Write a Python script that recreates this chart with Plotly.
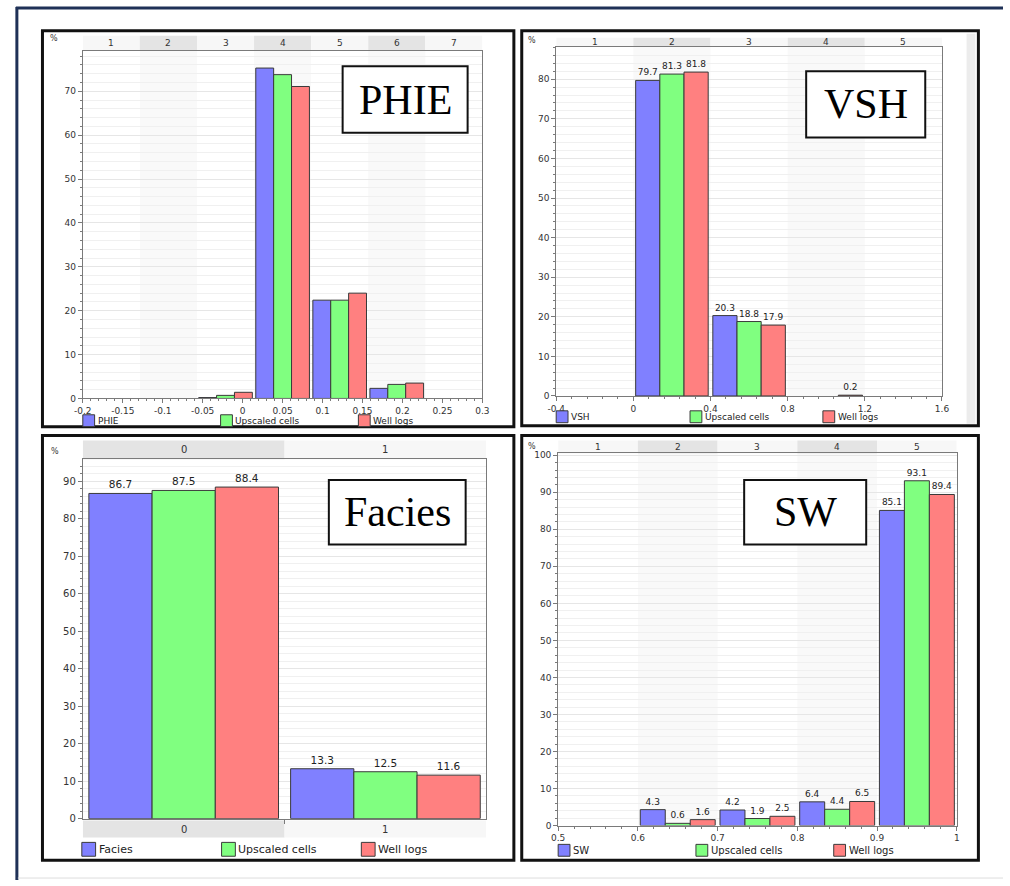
import numpy as np
import plotly.graph_objects as go

W, H = 1010, 886

# ---------------- data ----------------
PHIE_BINS = ["1", "2", "3", "4", "5", "6", "7"]
PHIE_EDGES = list(np.linspace(-0.2, 0.3, 8))
PHIE_PHIE = [0, 0, 0.2, 75.3, 22.4, 2.3, 0]
PHIE_UPSCALED = [0, 0, 0.7, 73.8, 22.4, 3.2, 0]
PHIE_WELL = [0, 0, 1.4, 71.1, 24.0, 3.5, 0]
PHIE_XTICKS = [-0.2, -0.15, -0.1, -0.05, 0, 0.05, 0.1, 0.15, 0.2, 0.25, 0.3]
PHIE_XTICK_LABELS = ["-0.2", "-0.15", "-0.1", "-0.05", "0", "0.05", "0.1", "0.15", "0.2", "0.25", "0.3"]
PHIE_YTICKS = [0, 10, 20, 30, 40, 50, 60, 70]

VSH_BINS = ["1", "2", "3", "4", "5"]
VSH_EDGES = [-0.4, 0.0, 0.4, 0.8, 1.2, 1.6]
VSH_VSH = [0, 79.7, 20.3, 0, 0]
VSH_UPSCALED = [0, 81.3, 18.8, 0, 0]
VSH_WELL = [0, 81.8, 17.9, 0.2, 0]
VSH_XTICKS = [-0.4, 0, 0.4, 0.8, 1.2, 1.6]
VSH_XTICK_LABELS = ["-0.4", "0", "0.4", "0.8", "1.2", "1.6"]
VSH_YTICKS = [0, 10, 20, 30, 40, 50, 60, 70, 80]

FACIES_CATS = ["0", "1"]
FACIES_FACIES = [86.7, 13.3]
FACIES_UPSCALED = [87.5, 12.5]
FACIES_WELL = [88.4, 11.6]
FACIES_YTICKS = [0, 10, 20, 30, 40, 50, 60, 70, 80, 90]

SW_BINS = ["1", "2", "3", "4", "5"]
SW_EDGES = [0.5, 0.6, 0.7, 0.8, 0.9, 1.0]
SW_SW = [0, 4.3, 4.2, 6.4, 85.1]
SW_UPSCALED = [0, 0.6, 1.9, 4.4, 93.1]
SW_WELL = [0, 1.6, 2.5, 6.5, 89.4]
SW_XTICKS = [0.5, 0.6, 0.7, 0.8, 0.9, 1.0]
SW_XTICK_LABELS = ["0.5", "0.6", "0.7", "0.8", "0.9", "1"]
SW_YTICKS = [0, 10, 20, 30, 40, 50, 60, 70, 80, 90, 100]

SERIES_COLORS = ["#8080ff", "#80ff80", "#ff8080"]
EDGE = "#3a3a3a"
STRIP_DARK = "#e4e4e4"
STRIP_LIGHT = "#f7f7f7"


def fx(px):
    return px / W


def fy(py):
    return 1 - py / H


panels = [
    dict(name="PHIE", series=["PHIE", "Upscaled cells", "Well logs"],
         vals=[PHIE_PHIE, PHIE_UPSCALED, PHIE_WELL], bins=PHIE_BINS, edges=PHIE_EDGES,
         xticks=PHIE_XTICKS, xlabels=PHIE_XTICK_LABELS, yticks=PHIE_YTICKS,
         xrange=[-0.2, 0.3], yrange=[0, 79.3], xminor=0.01, dark_first=False,
         box=(34, 28, 513, 428), plot=(75, 48, 481, 399.5), strip=(33, 48),
         legend_y=422, legend_x=[75, 215, 355], sq=12, lfont=9,
         lbox=(339, 64, 466, 131), pct=(46, 36), labels=False, tfont=9, vfont=9),
    dict(name="VSH", series=["VSH", "Upscaled cells", "Well logs"],
         vals=[VSH_VSH, VSH_UPSCALED, VSH_WELL], bins=VSH_BINS, edges=VSH_EDGES,
         xticks=VSH_XTICKS, xlabels=VSH_XTICK_LABELS, yticks=VSH_YTICKS,
         xrange=[-0.4, 1.6], yrange=[0, 88.25], xminor=0.08, dark_first=False,
         box=(521, 28, 985, 427), plot=(556, 44, 948, 397), strip=(35, 44),
         legend_y=418, legend_x=[556, 692, 827], sq=12, lfont=9,
         lbox=(810, 69, 931, 136), pct=(531, 38), labels=True, tfont=9, vfont=9),
    dict(name="Facies", series=["Facies", "Upscaled cells", "Well logs"],
         vals=[FACIES_FACIES, FACIES_UPSCALED, FACIES_WELL], bins=FACIES_CATS,
         edges=[-0.5, 0.5, 1.5],
         xticks=[], xlabels=[], yticks=FACIES_YTICKS,
         xrange=[-0.5, 1.5], yrange=[0, 95.8], xminor=None, dark_first=True,
         box=(34, 437, 513, 866), plot=(75, 461, 485, 824), strip=(442, 461),
         bstrip=(826, 843),
         legend_y=855, legend_x=[74, 216, 358], sq=14, lfont=11,
         lbox=(325, 482, 464, 547), pct=(47, 453), labels=True, tfont=10, vfont=10.5),
    dict(name="SW", series=["SW", "Upscaled cells", "Well logs"],
         vals=[SW_SW, SW_UPSCALED, SW_WELL], bins=SW_BINS, edges=SW_EDGES,
         xticks=SW_XTICKS, xlabels=SW_XTICK_LABELS, yticks=SW_YTICKS,
         xrange=[0.5, 1.0], yrange=[0, 100.5], xminor=0.02, dark_first=False,
         box=(521, 437, 985, 866), plot=(558, 455, 963, 831), strip=(442, 455),
         legend_y=856, legend_x=[558, 698, 838], sq=12, lfont=10,
         lbox=(747, 482, 871, 547), pct=(531, 448), labels=True, tfont=9, vfont=9),
]

fig = go.Figure()
shapes = []
annotations = []
layout_axes = {}

FONT = "DejaVu Sans"

for i, p in enumerate(panels, start=1):
    xa = "x" if i == 1 else f"x{i}"
    ya = "y" if i == 1 else f"y{i}"
    xkey = "xaxis" if i == 1 else f"xaxis{i}"
    ykey = "yaxis" if i == 1 else f"yaxis{i}"
    x0, y0, x1, y1 = p["plot"]
    edges = p["edges"]
    centers = [(edges[k] + edges[k + 1]) / 2 for k in range(len(edges) - 1)]

    tf = dict(family=FONT, size=p["tfont"], color="#333333")
    xa_def = dict(domain=[fx(x0), fx(x1)], range=p["xrange"], anchor=ya,
                  showgrid=False, zeroline=False, showline=True, linecolor="#7a7a7a",
                  linewidth=1, mirror=True, ticks="outside", ticklen=4, tickcolor="#7a7a7a",
                  tickfont=tf, fixedrange=True)
    if p["xticks"]:
        xa_def.update(tickmode="array", tickvals=p["xticks"], ticktext=p["xlabels"])
        xa_def["minor"] = dict(dtick=p["xminor"], tick0=p["xrange"][0], ticks="outside",
                               ticklen=2, tickcolor="#7a7a7a", showgrid=False)
    else:
        xa_def.update(tickmode="array", tickvals=[0.5], ticktext=[""])
    layout_axes[xkey] = xa_def
    layout_axes[ykey] = dict(domain=[fy(y1), fy(y0)], range=p["yrange"], anchor=xa,
                             showgrid=True, gridcolor="#e6e6e6", gridwidth=1,
                             zeroline=False, showline=True, linecolor="#7a7a7a",
                             linewidth=1, mirror=True, ticks="outside", ticklen=4,
                             tickcolor="#7a7a7a", tickmode="array", tickvals=p["yticks"],
                             tickfont=tf, fixedrange=True,
                             minor=dict(dtick=2, tick0=0, ticks="outside", ticklen=2,
                                        tickcolor="#7a7a7a", showgrid=True,
                                        gridcolor="#f0f0f0"))

    # bars
    for s, (sname, vals) in enumerate(zip(p["series"], p["vals"])):
        yv = [v if v > 0 else None for v in vals]
        txt = [(f"{v:.1f}" if (v > 0 and p["labels"]) else "") for v in vals]
        fig.add_trace(go.Bar(
            x=centers, y=yv, name=sname, xaxis=xa, yaxis=ya,
            marker=dict(color=SERIES_COLORS[s], line=dict(color=EDGE, width=1)),
            text=txt, textposition="outside", constraintext="none",
            textfont=dict(family=FONT, size=p["vfont"], color="#222222"),
            cliponaxis=False, showlegend=False, hoverinfo="skip"))

    # faint vertical bands inside the plot & category strip on top
    sy0, sy1 = p["strip"]
    for k in range(len(edges) - 1):
        dark = (k % 2 == 0) if p["dark_first"] else (k % 2 == 1)
        if dark and not p["dark_first"]:
            shapes.append(dict(type="rect", xref=xa, yref="paper", x0=edges[k], x1=edges[k + 1],
                               y0=fy(y1), y1=fy(y0), fillcolor="#f9f9f9", line=dict(width=0),
                               layer="below"))
        shapes.append(dict(type="rect", xref=xa, yref="paper", x0=edges[k], x1=edges[k + 1],
                           y0=fy(sy1), y1=fy(sy0),
                           fillcolor=STRIP_DARK if dark else STRIP_LIGHT,
                           line=dict(width=0), layer="below"))
        annotations.append(dict(xref=xa, yref="paper", x=centers[k], y=fy((sy0 + sy1) / 2),
                                xanchor="center", yanchor="middle",
                                text=p["bins"][k], showarrow=False,
                                font=dict(family=FONT, size=p["tfont"], color="#333333")))

    if "bstrip" in p:
        by0, by1 = p["bstrip"]
        for k in range(len(edges) - 1):
            shapes.append(dict(type="rect", xref=xa, yref="paper", x0=edges[k], x1=edges[k + 1],
                               y0=fy(by1), y1=fy(by0),
                               fillcolor=STRIP_DARK if k == 0 else STRIP_LIGHT,
                               line=dict(width=0), layer="below"))
            annotations.append(dict(xref=xa, yref="paper", x=centers[k], y=fy((by0 + by1) / 2),
                                    xanchor="center", yanchor="middle",
                                    text=p["bins"][k], showarrow=False,
                                    font=dict(family=FONT, size=p["tfont"], color="#333333")))

    # panel border
    bx0, by0_, bx1, by1_ = p["box"]
    shapes.append(dict(type="rect", xref="paper", yref="paper", x0=fx(bx0), x1=fx(bx1),
                       y0=fy(by1_), y1=fy(by0_), line=dict(color="#111111", width=3),
                       fillcolor="rgba(0,0,0,0)", layer="above"))

    # label box
    lx0, ly0, lx1, ly1 = p["lbox"]
    shapes.append(dict(type="rect", xref="paper", yref="paper", x0=fx(lx0), x1=fx(lx1),
                       y0=fy(ly1), y1=fy(ly0), line=dict(color="#111111", width=2),
                       fillcolor="white", layer="above"))
    annotations.append(dict(xref="paper", yref="paper", x=fx((lx0 + lx1) / 2),
                            y=fy((ly0 + ly1) / 2), xanchor="center", yanchor="middle",
                            text=p["name"], showarrow=False,
                            font=dict(family="Liberation Serif", size=42, color="#000000")))

    # percent sign
    annotations.append(dict(xref="paper", yref="paper", x=fx(p["pct"][0]), y=fy(p["pct"][1]),
                            xanchor="center", yanchor="middle",
                            text="%", showarrow=False,
                            font=dict(family=FONT, size=8, color="#333333")))

    # legend
    ly = p["legend_y"]
    sq = p["sq"]
    for s, sname in enumerate(p["series"]):
        lxs = p["legend_x"][s]
        shapes.append(dict(type="rect", xref="paper", yref="paper", x0=fx(lxs), x1=fx(lxs + sq),
                           y0=fy(ly + sq / 2), y1=fy(ly - sq / 2),
                           fillcolor=SERIES_COLORS[s], line=dict(color=EDGE, width=1),
                           layer="above"))
        annotations.append(dict(xref="paper", yref="paper", x=fx(lxs + sq + 1), y=fy(ly),
                                xanchor="left", yanchor="middle", text=sname, showarrow=False,
                                font=dict(family=FONT, size=p["lfont"], color="#222222")))

# VSH right grey band
shapes.append(dict(type="rect", xref="paper", yref="paper", x0=fx(973), x1=fx(982),
                   y0=fy(425), y1=fy(31), fillcolor="#ececec", line=dict(width=0), layer="below"))

# outer frame
shapes.append(dict(type="line", xref="paper", yref="paper", x0=fx(7), x1=1, y0=fy(5), y1=fy(5),
                   line=dict(color="#1f3157", width=3), layer="above"))
shapes.append(dict(type="line", xref="paper", yref="paper", x0=fx(8), x1=fx(8), y0=fy(4), y1=0,
                   line=dict(color="#1f3157", width=3), layer="above"))
shapes.append(dict(type="line", xref="paper", yref="paper", x0=fx(9), x1=1, y0=fy(884), y1=fy(884),
                   line=dict(color="#dddddd", width=1), layer="above"))

fig.update_layout(
    width=W, height=H, margin=dict(l=0, r=0, t=0, b=0),
    paper_bgcolor="white", plot_bgcolor="white",
    barmode="group", bargap=0.06, bargroupgap=0,
    shapes=shapes, annotations=annotations, showlegend=False,
    **layout_axes)

fig.write_html("out.html", config={"displayModeBar": False},
               post_script="document.body.style.margin='0';document.body.style.overflow='hidden';")
